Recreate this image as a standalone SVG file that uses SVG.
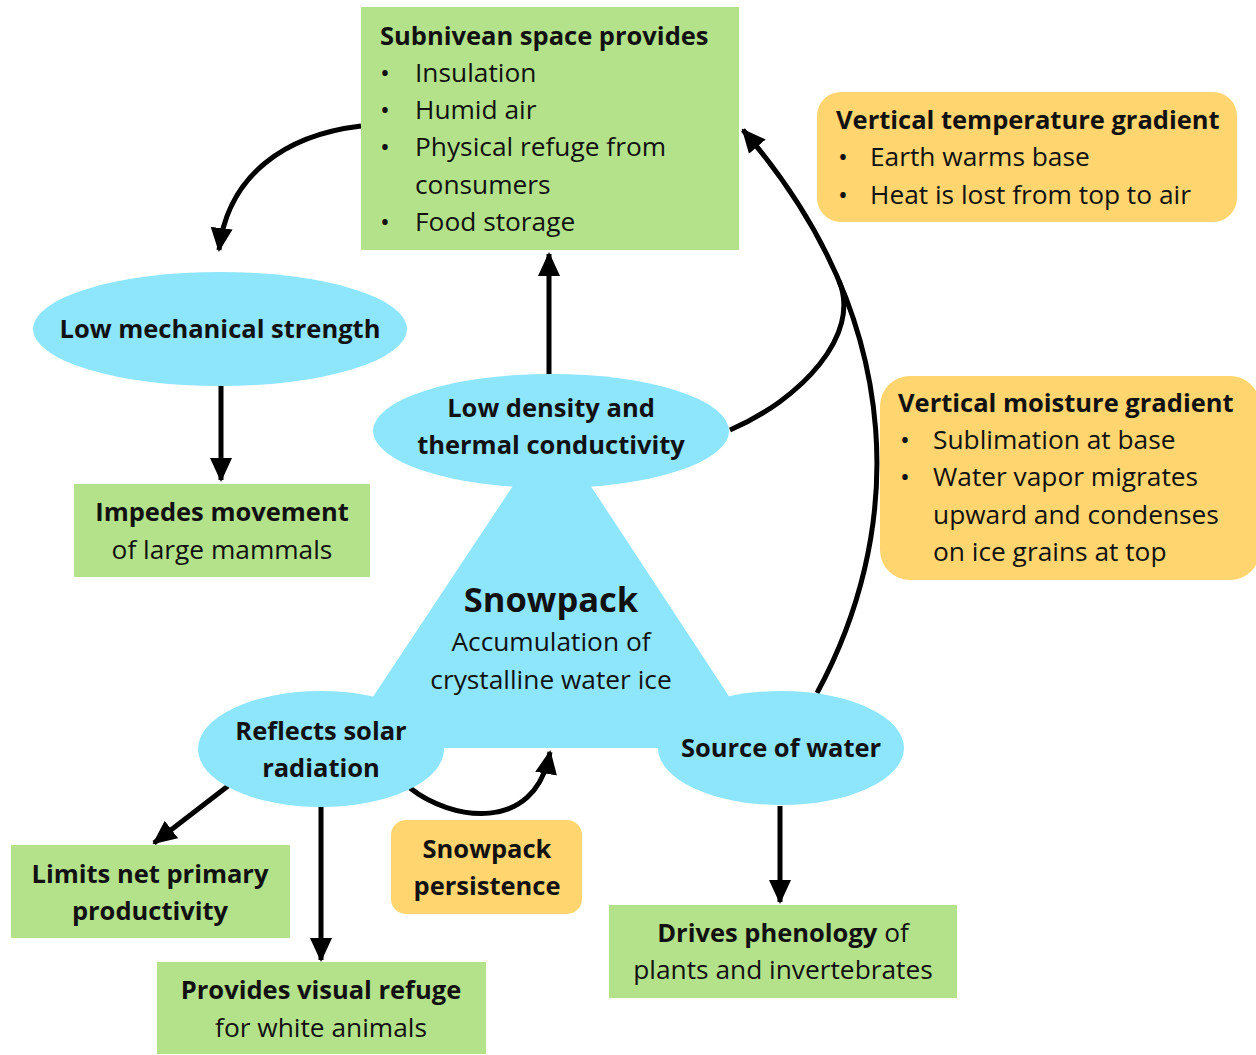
<svg xmlns="http://www.w3.org/2000/svg" width="1256" height="1055" viewBox="0 0 1256 1055">
<defs>
<style>
text{font-family:"Open Sans","Noto Sans","Liberation Sans",sans-serif;font-size:26.3px;fill:#111;}
.b{font-weight:bold;font-size:25.5px;}
.c{text-anchor:middle;}
.green{fill:#b3e28b;}
.cyan{fill:#8ee6fd;}
.orange{fill:#fed56f;}
.conn{fill:none;stroke:#000;stroke-width:5;}
</style>
<marker id="ah" markerUnits="userSpaceOnUse" markerWidth="24" markerHeight="24" viewBox="0 0 24 24" refX="22" refY="12" orient="auto">
<path d="M0,1 L24,12 L0,23 Z" fill="#000"/>
</marker>
</defs>
<rect width="1256" height="1055" fill="#fff"/>

<g id="snowpack">
<polygon class="cyan" points="552,427 339,748 763,748"/>
<text class="b c" x="551" y="612" style="font-size:34.5px">Snowpack</text>
<text class="c" x="551" y="651">Accumulation of</text>
<text class="c" x="551" y="689">crystalline water ice</text>
</g>

<g id="connectors">
<path class="conn" d="M361,126 C285,135 228,175 219,250" marker-end="url(#ah)"/>
<path class="conn" d="M549,374 L549,254" marker-end="url(#ah)"/>
<path class="conn" d="M221,386 L221,480" marker-end="url(#ah)"/>
<path class="conn" d="M730,430 C800,400 862,335 839,281"/>
<path class="conn" d="M817,693 C900,540 915,330 743,130" marker-end="url(#ah)"/>
<path class="conn" d="M410,788 C450,820 535,835 550,752" marker-end="url(#ah)"/>
<path class="conn" d="M228,786 L154,843" marker-end="url(#ah)"/>
<path class="conn" d="M321,806 L321,960" marker-end="url(#ah)"/>
<path class="conn" d="M780,806 L780,902" marker-end="url(#ah)"/>
</g>

<g id="subnivean">
<rect class="green" x="361" y="7" width="378" height="243"/>
<text class="b" x="380" y="45">Subnivean space provides</text>
<text x="380" y="82">•</text><text x="415" y="82">Insulation</text>
<text x="380" y="119">•</text><text x="415" y="119">Humid air</text>
<text x="380" y="156">•</text><text x="415" y="156">Physical refuge from</text>
<text x="415" y="194">consumers</text>
<text x="380" y="231">•</text><text x="415" y="231">Food storage</text>
</g>

<g id="temp-gradient">
<rect class="orange" x="817" y="92" width="420" height="130" rx="24"/>
<text class="b" x="836" y="129">Vertical temperature gradient</text>
<text x="838" y="166">•</text><text x="870" y="166">Earth warms base</text>
<text x="838" y="204">•</text><text x="870" y="204">Heat is lost from top to air</text>
</g>

<g id="moisture-gradient">
<rect class="orange" x="880" y="376" width="380" height="204" rx="30"/>
<text class="b" x="898" y="412">Vertical moisture gradient</text>
<text x="900" y="449">•</text><text x="933" y="449">Sublimation at base</text>
<text x="900" y="486">•</text><text x="933" y="486">Water vapor migrates</text>
<text x="933" y="524">upward and condenses</text>
<text x="933" y="561">on ice grains at top</text>
</g>

<g id="low-mech">
<ellipse class="cyan" cx="220" cy="329" rx="187" ry="57"/>
<text class="b c" x="220" y="338">Low mechanical strength</text>
</g>

<g id="impedes">
<rect class="green" x="74" y="484" width="296" height="93"/>
<text class="b c" x="222" y="521">Impedes movement</text>
<text class="c" x="222" y="559">of large mammals</text>
</g>

<g id="low-density">
<ellipse class="cyan" cx="551" cy="431" rx="178" ry="57"/>
<text class="b c" x="551" y="417">Low density and</text>
<text class="b c" x="551" y="454">thermal conductivity</text>
</g>

<g id="reflects">
<ellipse class="cyan" cx="321" cy="749" rx="123" ry="58"/>
<text class="b c" x="321" y="740">Reflects solar</text>
<text class="b c" x="321" y="777">radiation</text>
</g>

<g id="source">
<ellipse class="cyan" cx="781" cy="748" rx="123" ry="57"/>
<text class="b c" x="781" y="757">Source of water</text>
</g>

<g id="limits">
<rect class="green" x="11" y="845" width="279" height="93"/>
<text class="b c" x="150" y="883">Limits net primary</text>
<text class="b c" x="150" y="920">productivity</text>
</g>

<g id="visual">
<rect class="green" x="157" y="962" width="329" height="92"/>
<text class="b c" x="321" y="999">Provides visual refuge</text>
<text class="c" x="321" y="1037">for white animals</text>
</g>

<g id="persistence">
<rect class="orange" x="391" y="820" width="191" height="94" rx="15"/>
<text class="b c" x="487" y="858">Snowpack</text>
<text class="b c" x="487" y="895">persistence</text>
</g>

<g id="phenology">
<rect class="green" x="609" y="905" width="348" height="93"/>
<text class="c" x="783" y="942"><tspan class="b">Drives phenology</tspan> of</text>
<text class="c" x="783" y="979">plants and invertebrates</text>
</g>
</svg>
